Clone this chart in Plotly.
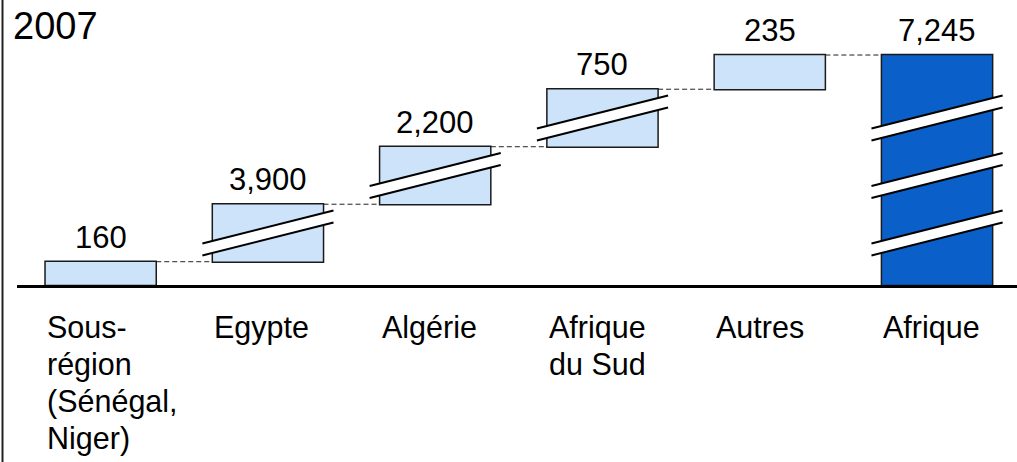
import plotly.graph_objects as go
import numpy as np

# Waterfall data
categories = ["Sous-<br>région<br>(Sénégal,<br>Niger)", "Egypte", "Algérie",
              "Afrique<br>du Sud", "Autres", "Afrique"]
values = [160, 3900, 2200, 750, 235]
total_value = 7245
# amount of each bar left out by the axis break marks
hidden = [0, 3505, 1805, 355, 0]
year_label = "2007"

LIGHT = "#cde3fa"
DARK = "#0a60c8"
EDGE = "#1a1a1a"
FONT = "Liberation Sans, Arial, Helvetica, sans-serif"
BAR_W = 0.665
LINE_GAP = 37  # px between label lines

shown = [v - h for v, h in zip(values, hidden)]
tops = np.cumsum(shown)
bases = tops - np.array(shown)
total_shown = float(tops[-1])
n = len(categories)
xs = list(range(n))

fig = go.Figure()
fig.add_trace(go.Waterfall(
    x=xs,
    y=shown + [0],
    measure=["relative"] * len(values) + ["total"],
    width=BAR_W,
    increasing=dict(marker=dict(color=LIGHT, line=dict(color=EDGE, width=1.5))),
    totals=dict(marker=dict(color=DARK, line=dict(color=EDGE, width=1.5))),
    connector=dict(mode="between", line=dict(color="#222222", width=1, dash="5px,3px")),
    hoverinfo="skip",
    showlegend=False,
))

annotations = []
# value labels above each bar
label_vals = values + [total_value]
label_tops = list(tops) + [total_shown]
for i, (v, t) in enumerate(zip(label_vals, label_tops)):
    annotations.append(dict(
        x=i, y=t, xref="x", yref="y", text=f"{v:,}", showarrow=False,
        xanchor="center", yanchor="bottom", yshift=5,
        font=dict(family=FONT, size=31, color="black"),
    ))

# category labels under the baseline, one annotation per line
for i, c in enumerate(categories):
    for k, line in enumerate(c.split("<br>")):
        annotations.append(dict(
            x=i - BAR_W / 2, y=0, xref="x", yref="y", text=line, showarrow=False,
            xanchor="left", yanchor="top", align="left",
            yshift=-23 - k * LINE_GAP,
            font=dict(family=FONT, size=30.5, color="black"),
        ))

annotations.append(dict(
    x=-0.006, y=0.91, xref="paper", yref="paper", text=year_label, showarrow=False,
    xanchor="left", yanchor="middle",
    font=dict(family=FONT, size=38, color="black"),
))

# axis break marks: white slanted band edged by two lines
U = 1958 / 285.0          # data units per pixel on the value axis
THICK = 12 * U
RISE = 33 * U
HALF = 0.392

shapes = []


def add_break(xc, yc):
    x0, x1 = xc - HALF, xc + HALF
    up0, up1 = yc + THICK / 2 - RISE / 2, yc + THICK / 2 + RISE / 2
    lo0, lo1 = yc - THICK / 2 - RISE / 2, yc - THICK / 2 + RISE / 2
    shapes.append(dict(
        type="path", xref="x", yref="y",
        path=f"M {x0},{lo0} L {x1},{lo1} L {x1},{up1} L {x0},{up0} Z",
        fillcolor="white", line=dict(width=0),
    ))
    for a, b in ((up0, up1), (lo0, lo1)):
        shapes.append(dict(type="line", xref="x", yref="y",
                           x0=x0, x1=x1, y0=a, y1=b,
                           line=dict(color="black", width=2)))


for i, h in enumerate(hidden):
    if h > 0:
        yc = bases[i] + shown[i] / 2
        add_break(i, yc)
        add_break(n - 1, yc)

# baseline and left frame line
shapes.append(dict(type="line", xref="paper", yref="paper", x0=0, x1=1,
                   y0=-1.5 / 285, y1=-1.5 / 285, line=dict(color="black", width=3)))
shapes.append(dict(type="line", xref="paper", yref="paper", x0=-0.0145, x1=-0.0145,
                   y0=-0.63, y1=1.01, line=dict(color="#222222", width=2)))

fig.update_layout(
    width=1017, height=462,
    margin=dict(l=17, r=0, t=0, b=177),
    paper_bgcolor="white", plot_bgcolor="white",
    xaxis=dict(range=[-0.5, 5.478], visible=False, showgrid=False, zeroline=False),
    yaxis=dict(range=[0, 1958], visible=False, showgrid=False, zeroline=False),
    annotations=annotations,
    shapes=shapes,
    font=dict(family=FONT),
)

fig.write_html("out.html")
